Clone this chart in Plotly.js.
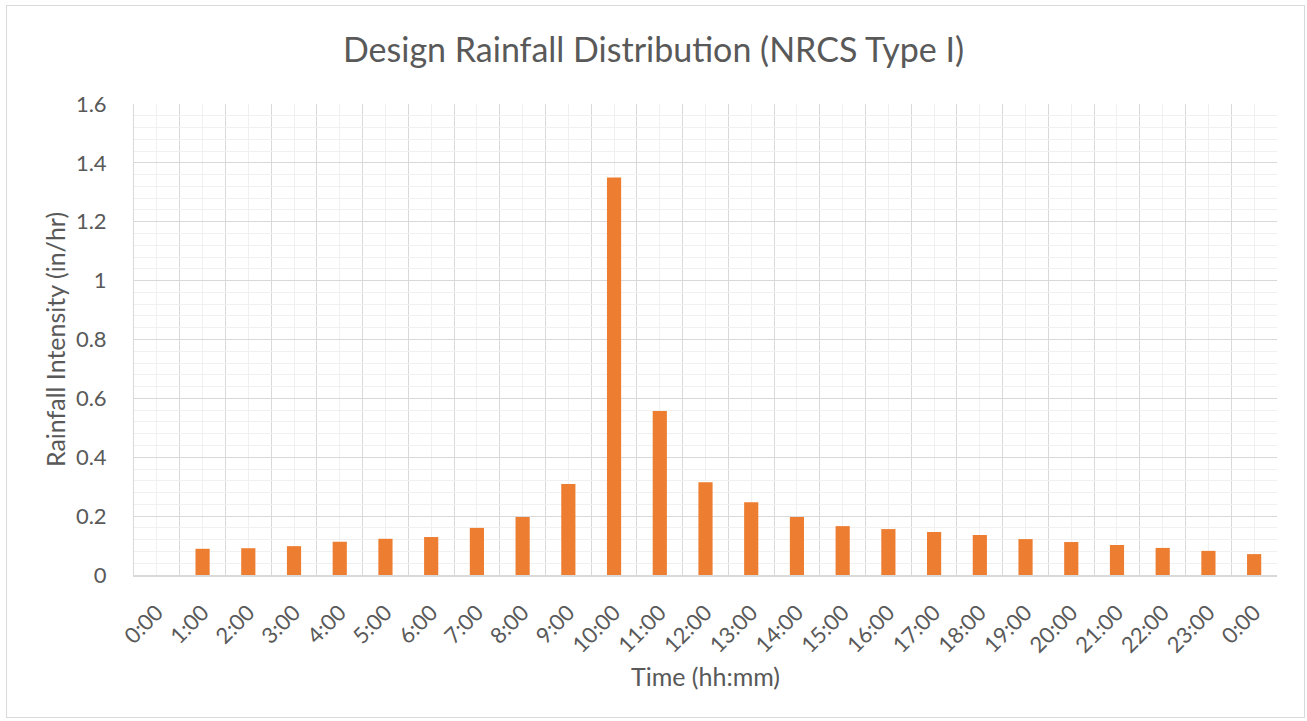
<!DOCTYPE html>
<html>
<head>
<meta charset="utf-8">
<script src="https://cdn.plot.ly/plotly-3.0.1.min.js"></script>
<style>
  html, body { margin: 0; padding: 0; background: #fff; }
  #chart { width: 1307px; height: 721px; }
  #frame { position: absolute; left: 6px; top: 5px; width: 1297px; height: 711px; border: 1px solid #d9d9d9; pointer-events: none; }
</style>
</head>
<body>
<div id="chart"></div>
<div id="frame"></div>
<script>
const timeLabels = ["0:00","1:00","2:00","3:00","4:00","5:00","6:00","7:00","8:00","9:00","10:00","11:00","12:00",
  "13:00","14:00","15:00","16:00","17:00","18:00","19:00","20:00","21:00","22:00","23:00","0:00"];
const intensity = [0, 0.089, 0.091, 0.098, 0.113, 0.123, 0.129, 0.160, 0.197, 0.309, 1.350, 0.557, 0.315,
  0.247, 0.197, 0.166, 0.156, 0.146, 0.136, 0.122, 0.112, 0.102, 0.092, 0.082, 0.071];

const xIdx = timeLabels.map((_, i) => i);
const boundaries = timeLabels.map((_, i) => i - 0.5).concat([timeLabels.length - 0.5]);

const font = "Lato, 'Open Sans', sans-serif";
const textColor = "#595959";

const trace = {
  type: "bar",
  x: xIdx,
  y: intensity,
  width: 0.31,
  marker: { color: "#ED7D31", line: { width: 0 } },
  hoverinfo: "skip"
};

const layout = {
  width: 1307,
  height: 721,
  margin: { l: 134, r: 30, t: 104, b: 146 },
  paper_bgcolor: "#ffffff",
  plot_bgcolor: "#ffffff",
  showlegend: false,
  font: { family: font, color: textColor },
  title: {
    text: "Design Rainfall Distribution (NRCS Type I)",
    font: { family: font, size: 34, color: textColor },
    x: 0.5, xanchor: "center",
    y: 0.931, yanchor: "middle"
  },
  xaxis: {
    type: "linear",
    range: [-0.5, timeLabels.length - 0.5],
    tickmode: "array",
    tickvals: xIdx,
    ticktext: timeLabels,
    tickangle: -45,
    tickfont: { family: font, size: 22, color: textColor },
    ticks: "",
    ticklabelstandoff: 14,
    showgrid: true,
    gridcolor: "#f0f0f0",
    gridwidth: 1,
    minor: { tickmode: "array", tickvals: boundaries, showgrid: true, gridcolor: "#d9d9d9", gridwidth: 1, ticks: "" },
    zeroline: false,
    showline: true,
    linecolor: "#d9d9d9",
    linewidth: 2,
    fixedrange: true,
    title: { text: "Time (hh:mm)", font: { family: font, size: 25, color: textColor }, standoff: 12 }
  },
  yaxis: {
    range: [0, 1.6],
    tickmode: "linear",
    tick0: 0,
    dtick: 0.2,
    tickfont: { family: font, size: 22, color: textColor },
    ticks: "",
    ticklabelstandoff: 22,
    showgrid: true,
    gridcolor: "#d9d9d9",
    gridwidth: 1,
    minor: { dtick: 0.04, tick0: 0, showgrid: true, gridcolor: "#f0f0f0", gridwidth: 1, ticks: "" },
    zeroline: false,
    showline: true,
    linecolor: "#d9d9d9",
    linewidth: 1,
    fixedrange: true,
    title: { text: "Rainfall Intensity (in/hr)", font: { family: font, size: 25, color: textColor }, standoff: 3 }
  }
};

Plotly.newPlot("chart", [trace], layout, { displayModeBar: false, staticPlot: true });
</script>
</body>
</html>
